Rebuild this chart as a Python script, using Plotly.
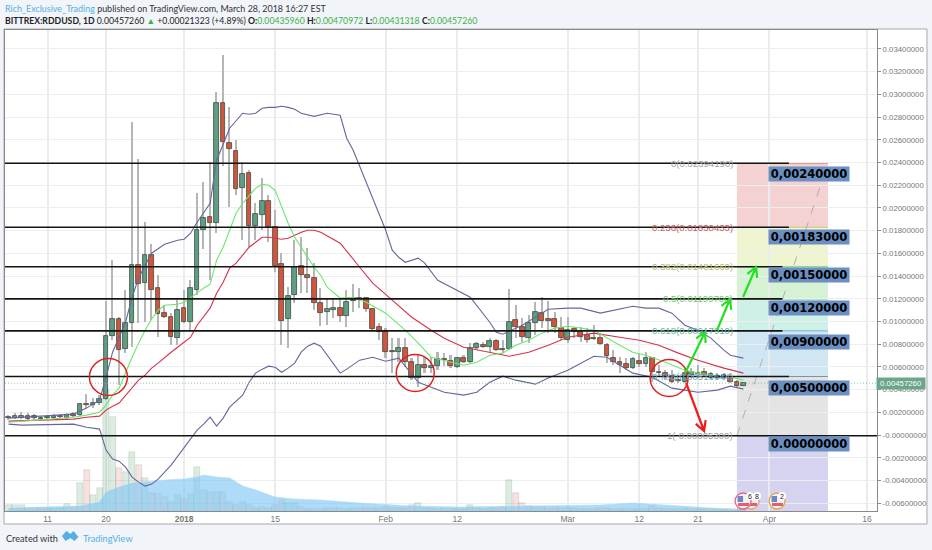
#!/usr/bin/env python3
"""
plot.py
BITTREX:RDDUSD daily chart with Bollinger bands, moving averages,
fibonacci zones and hand drawn levels.
"""

import numpy as np
import pandas as pd
import plotly.graph_objects as go

# prices are in units of 0.00001 USD
SCALE = 1e-5

DATES = pd.date_range("2017-12-05", "2018-03-28", freq="D")

OPEN = [150, 150, 150, 167, 167, 150, 150, 150, 158, 150, 185, 176, 273, 264, 282, 317, 871, 1021, 757, 986, 1496, 1338, 1584, 1294, 1074, 1038, 854,
        1118, 994, 1276, 1804, 1918, 1866, 2922, 2570, 2499, 2174, 2306, 1839, 1936, 2059, 1830, 1505, 1021, 1232, 1487, 1408, 1382, 1162, 1082, 1100, 1118, 1047, 1179, 1206, 1206, 1109, 950,
        906, 739, 730, 766, 642, 502, 616, 590, 607, 669, 651, 598, 678, 642, 766, 792, 774, 827, 757, 757, 1012, 950, 854, 986, 1074, 1021, 1021, 942,
        836, 933, 906, 880, 854, 854, 792, 678, 642, 625, 590, 651, 625, 678, 554, 546, 519, 484, 466, 528, 546, 554, 537, 519, 502, 510, 466, 436]
HIGH = [176, 194, 202, 194, 185, 167, 176, 185, 185, 194, 202, 282, 361, 326, 352, 1179, 1540, 1038, 1276, 2754, 2429, 1874, 1681, 1408, 1144, 1074, 1188,
        1276, 1364, 2130, 2226, 2402, 3018, 3344, 2886, 2596, 2402, 2332, 2042, 2262, 2112, 1980, 1602, 1302, 1716, 1742, 1646, 1514, 1294, 1206, 1206, 1206, 1276, 1329, 1294, 1214, 1118, 986,
        942, 854, 854, 854, 678, 704, 686, 686, 730, 722, 704, 686, 704, 810, 818, 818, 854, 845, 836, 1285, 1144, 1030, 1056, 1170, 1214, 1179, 1082, 1038,
        1038, 950, 950, 942, 968, 898, 810, 748, 686, 678, 686, 722, 730, 686, 616, 572, 572, 528, 590, 590, 616, 590, 554, 546, 546, 546, 484, 471]
LOW = [132, 141, 141, 123, 132, 132, 132, 141, 150, 141, 158, 167, 238, 238, 264, 310, 836, 440, 722, 774, 986, 994, 1012, 862, 1030, 792, 792,
       986, 924, 1232, 1637, 1364, 1778, 2367, 2006, 2112, 1716, 1654, 1716, 1804, 1698, 1434, 792, 766, 1162, 1250, 1250, 1100, 959, 968, 1030, 994, 950, 1082, 1118, 1082, 906, 836,
       678, 546, 642, 598, 484, 422, 546, 546, 572, 607, 590, 590, 634, 634, 748, 766, 730, 739, 722, 748, 854, 818, 810, 880, 942, 898, 898, 836,
       810, 854, 818, 810, 836, 792, 634, 616, 546, 572, 581, 598, 598, 466, 510, 484, 458, 458, 458, 502, 502, 510, 493, 484, 484, 458, 422, 431]
CLOSE = [158, 167, 167, 141, 150, 146, 158, 167, 167, 176, 167, 273, 268, 282, 317, 871, 1021, 748, 986, 1496, 1329, 1584, 1276, 1065, 1038, 862, 1100,
         994, 1294, 1804, 1910, 1866, 2922, 2578, 2517, 2165, 2297, 1839, 1945, 2059, 1830, 1487, 1003, 1223, 1478, 1408, 1382, 1162, 1074, 1109, 1118, 1047, 1170, 1206, 1197, 1109, 933, 906,
         730, 730, 766, 642, 502, 616, 590, 607, 669, 660, 607, 678, 642, 766, 801, 774, 827, 748, 748, 994, 950, 862, 986, 1082, 1003, 1003, 950, 854,
         924, 906, 862, 836, 850, 801, 695, 642, 616, 590, 669, 625, 678, 554, 546, 519, 466, 475, 546, 554, 537, 528, 502, 502, 528, 466, 431, 457]

# volume, arbitrary units
VOLUME = [6, 6, 6, 3, 3, 3, 3, 3, 3, 7, 4, 28, 41, 16, 23, 121, 94, 43, 39, 59, 46, 33, 18, 17, 14, 9, 16,
          12, 17, 44, 21, 19, 19, 19, 9, 6, 9, 6, 3, 4, 3, 6, 11, 8, 8, 4, 2, 2, 2, 3, 3, 3, 2, 3, 3, 3, 3, 3,
          4, 3, 3, 3, 6, 8, 3, 3, 2, 3, 2, 2, 2, 6, 3, 2, 3, 3, 4, 31, 18, 8, 5, 4, 4, 3, 3, 3,
          3, 3, 2, 2, 2, 3, 3, 2, 2, 2, 2, 2, 2, 5, 3, 2, 2, 2, 3, 2, 2, 2, 2, 2, 2, 2, 2, 2]

VOL_MA_DATES = ["2017-12-05", "2017-12-16", "2017-12-19", "2017-12-20", "2017-12-22", "2017-12-24", "2017-12-26", "2017-12-29",
                "2018-01-01", "2018-01-03", "2018-01-04", "2018-01-06", "2018-01-08", "2018-01-10", "2018-01-12", "2018-01-15",
                "2018-01-18", "2018-01-22", "2018-01-28", "2018-02-05", "2018-02-12", "2018-02-20", "2018-02-28", "2018-03-06",
                "2018-03-11", "2018-03-16", "2018-03-22", "2018-03-28"]
VOL_MA = [3, 5, 9, 19, 24, 28, 29, 31, 32, 34, 36, 34, 33, 25, 21, 14, 12, 11, 8, 5, 4, 5, 6, 6, 8, 6, 3, 1]

UPPER_DATES = ["2017-12-05", "2017-12-15", "2017-12-17", "2017-12-19", "2017-12-20", "2017-12-21", "2017-12-22", "2017-12-23", "2017-12-24", "2017-12-25", "2017-12-26", "2017-12-27", "2017-12-29", "2017-12-31",
               "2018-01-01", "2018-01-02", "2018-01-03", "2018-01-04", "2018-01-05", "2018-01-06", "2018-01-07", "2018-01-08", "2018-01-10", "2018-01-11", "2018-01-12", "2018-01-13", "2018-01-14", "2018-01-15", "2018-01-16", "2018-01-17", "2018-01-18", "2018-01-19", "2018-01-21", "2018-01-23", "2018-01-25", "2018-01-26", "2018-01-27",
               "2018-02-01", "2018-02-02", "2018-02-03", "2018-02-04", "2018-02-06", "2018-02-07", "2018-02-09", "2018-02-14", "2018-02-17", "2018-02-18", "2018-02-19", "2018-02-22", "2018-02-24", "2018-02-26",
               "2018-03-01", "2018-03-03", "2018-03-06", "2018-03-08", "2018-03-11", "2018-03-13", "2018-03-15", "2018-03-17", "2018-03-19", "2018-03-21", "2018-03-23", "2018-03-25", "2018-03-26", "2018-03-28"]
UPPER = [150, 185, 238, 308, 510, 730, 862, 994, 1214, 1382, 1496, 1602, 1681, 1716,
         1725, 1778, 1874, 1962, 2042, 2420, 2570, 2702, 2834, 2825, 2834, 2878, 2886, 2886, 2895, 2886, 2869, 2834, 2807, 2834, 2816, 2614, 2508,
         1804, 1628, 1566, 1522, 1558, 1514, 1364, 1214, 994, 906, 889, 968, 1038, 1109,
         1118, 1118, 1074, 1100, 1135, 1118, 1118, 1074, 968, 924, 854, 748, 704, 678]

LOWER_DATES = ["2017-12-05", "2017-12-07", "2017-12-15", "2017-12-17", "2017-12-19", "2017-12-20", "2017-12-21", "2017-12-22", "2017-12-23", "2017-12-24", "2017-12-25", "2017-12-26", "2017-12-27", "2017-12-28", "2017-12-30",
               "2018-01-01", "2018-01-03", "2018-01-04", "2018-01-05", "2018-01-06", "2018-01-07", "2018-01-08", "2018-01-10", "2018-01-11", "2018-01-12", "2018-01-13", "2018-01-14", "2018-01-15", "2018-01-16", "2018-01-17", "2018-01-18", "2018-01-19", "2018-01-20", "2018-01-21", "2018-01-22", "2018-01-25", "2018-01-26", "2018-01-28", "2018-01-30",
               "2018-02-01", "2018-02-03", "2018-02-06", "2018-02-08", "2018-02-10", "2018-02-13", "2018-02-15", "2018-02-17", "2018-02-19", "2018-02-21", "2018-02-24", "2018-02-26",
               "2018-03-01", "2018-03-05", "2018-03-07", "2018-03-09", "2018-03-11", "2018-03-14", "2018-03-17", "2018-03-19", "2018-03-21", "2018-03-24", "2018-03-26", "2018-03-28"]
LOWER = [97, 88, 97, 70, 53, -132, -211, -229, -282, -370, -414, -449, -431, -387, -264,
         -106, 44, 97, 158, 79, 150, 246, 352, 466, 546, 581, 607, 598, 554, 590, 634, 730, 783, 810, 783, 546, 581, 660, 686,
         651, 678, 466, 422, 378, 352, 378, 466, 519, 484, 449, 502,
         572, 695, 686, 616, 546, 510, 414, 396, 378, 396, 431, 405]

FAST_DATES = ["2017-12-05", "2017-12-11", "2017-12-15", "2017-12-17", "2017-12-19", "2017-12-20", "2017-12-21", "2017-12-22", "2017-12-23", "2017-12-24", "2017-12-25", "2017-12-26", "2017-12-27", "2017-12-28", "2017-12-29", "2017-12-31",
              "2018-01-01", "2018-01-02", "2018-01-03", "2018-01-04", "2018-01-05", "2018-01-06", "2018-01-07", "2018-01-08", "2018-01-09", "2018-01-10", "2018-01-11", "2018-01-12", "2018-01-13", "2018-01-14", "2018-01-15", "2018-01-16", "2018-01-17", "2018-01-18", "2018-01-19", "2018-01-20", "2018-01-21", "2018-01-22", "2018-01-23", "2018-01-25", "2018-01-27", "2018-01-29",
              "2018-02-01", "2018-02-04", "2018-02-06", "2018-02-08", "2018-02-10", "2018-02-13", "2018-02-15", "2018-02-17", "2018-02-19", "2018-02-21", "2018-02-23", "2018-02-25", "2018-02-27",
              "2018-03-01", "2018-03-03", "2018-03-05", "2018-03-09", "2018-03-11", "2018-03-13", "2018-03-16", "2018-03-19", "2018-03-21", "2018-03-24", "2018-03-26", "2018-03-28"]
FAST = [114, 141, 158, 176, 202, 264, 352, 414, 554, 686, 810, 924, 1021, 1100, 1144, 1153,
        1170, 1214, 1258, 1294, 1329, 1540, 1654, 1804, 1954, 2042, 2112, 2174, 2209, 2200, 2156, 2006, 1866, 1742, 1654, 1566, 1478, 1408, 1302, 1206, 1214, 1170,
        1074, 924, 810, 686, 660, 616, 642, 704, 722, 792, 836, 898, 942,
        959, 942, 924, 792, 730, 704, 642, 572, 546, 519, 510, 484]

SLOW_DATES = ["2017-12-05", "2017-12-11", "2017-12-15", "2017-12-17", "2017-12-19", "2017-12-20", "2017-12-21", "2017-12-22", "2017-12-23", "2017-12-24", "2017-12-25", "2017-12-26", "2017-12-27", "2017-12-28", "2017-12-29", "2017-12-30", "2017-12-31",
              "2018-01-01", "2018-01-02", "2018-01-03", "2018-01-04", "2018-01-05", "2018-01-06", "2018-01-07", "2018-01-08", "2018-01-09", "2018-01-10", "2018-01-11", "2018-01-12", "2018-01-13", "2018-01-14", "2018-01-15", "2018-01-16", "2018-01-17", "2018-01-18", "2018-01-19", "2018-01-20", "2018-01-21", "2018-01-22", "2018-01-25", "2018-01-28", "2018-01-30",
              "2018-02-02", "2018-02-05", "2018-02-08", "2018-02-10", "2018-02-13", "2018-02-17", "2018-02-20", "2018-02-23", "2018-02-26",
              "2018-03-01", "2018-03-05", "2018-03-09", "2018-03-12", "2018-03-15", "2018-03-18", "2018-03-21", "2018-03-25", "2018-03-28"]
SLOW = [123, 132, 141, 158, 167, 220, 255, 282, 352, 422, 484, 528, 590, 634, 686, 730, 774,
        818, 862, 968, 1038, 1118, 1250, 1346, 1470, 1514, 1584, 1654, 1698, 1742, 1742, 1734, 1725, 1734, 1760, 1786, 1804, 1804, 1786, 1690, 1478, 1338,
        1188, 1038, 924, 854, 774, 730, 695, 730, 792,
        862, 898, 862, 836, 792, 722, 660, 590, 546]

# fibonacci tool
FIB_LABELS = ["0(0.02394190)", "0.236(0.01830433)", "0.382(0.01481660)", "0.5(0.01199700)", "0.618(0.00917910)", "0.786(0.00516644)", "1(-0.00005300)"]
FIB_LEVELS = [0.02394, 0.0183, 0.01482, 0.012, 0.00918, 0.00516, -0.00005]
FIB_TEXT_COLORS = ["#a0a0a0", "#c45c5c", "#b9b96a", "#70c870", "#62b8a0", "#6fa5c5", "#a0a0a0"]
FIB_FILLS = ["#f5d2d2", "#eef5d0", "#d5f3d3", "#cff0e6", "#d0e6f3", "#e4e4e4", "#d6d3f1"]
FIB_LINES = ["#d08080", "#c8c878", "#70c870", "#62c8a8", "#70b0d0", "#8090a0", "#8080b0"]
FIB_START = "2018-03-27"
FIB_END = "2018-04-10"
LEVEL_ENDS = ["2018-04-04", "2018-04-04", "2018-04-03", "2018-04-03", "2018-04-03", "2018-04-04", "2018-04-17 13:00"]

BOX_LABELS = ["0,00240000", "0,00183000", "0,00150000", "0,00120000", "0,00900000", "0,00500000", "0.00000000"]

PRICE_TICKS = [0.034, 0.032, 0.03, 0.028, 0.026, 0.024, 0.022, 0.02, 0.018, 0.016, 0.014, 0.012, 0.01, 0.008, 0.006, 0.004, 0.002, 0.0, -0.002, -0.004, -0.006]
PRICE_TICK_TEXT = ["0.03400000", "0.03200000", "0.03000000", "0.02800000", "0.02600000", "0.02400000", "0.02200000", "0.02000000", "0.01800000", "0.01600000", "0.01400000", "0.01200000", "0.01000000", "0.00800000", "0.00600000", "0.00400000", "0.00200000", "-0.00000000", "-0.00200000", "-0.00400000", "-0.00600000"]
DATE_TICKS = ["2017-12-11", "2017-12-20", "2018-01-01", "2018-01-15", "2018-02-01", "2018-02-12", "2018-03-01", "2018-03-12", "2018-03-21", "2018-04-01", "2018-04-16"]
DATE_TICK_TEXT = ["11", "20", "<b>2018</b>", "15", "Feb", "12", "Mar", "12", "21", "Apr", "16"]

LAST_PRICE = 0.0045726

# plot area in page pixels
LEFT, RIGHT, TOP, BOTTOM = 4.5, 877.0, 30.0, 511.0
UP, DOWN = "#5f9e80", "#d2553c"
BAND = "#66669c"
DAY_MS = 86400000


def px(x):
    return (x - LEFT) / (RIGHT - LEFT)


def py(y):
    return (BOTTOM - y) / (BOTTOM - TOP)


def note(x, y, text, size=9, color="#444", family="Liberation Sans", anchor="left", **kw):
    return dict(x=px(x), y=py(y), xref="paper", yref="paper", text=text, showarrow=False,
                xanchor=anchor, yanchor="middle", font=dict(size=size, color=color, family=family), **kw)


def arrow_path(x0, y0, x1, y1, head=11):
    # line with an open V head, given in page pixels
    ang = np.arctan2(y1 - y0, x1 - x0)
    pts = []
    for sign in (-1, 1):
        a = ang + np.pi + sign * 0.5
        pts.append((x1 + head * np.cos(a), y1 + head * np.sin(a)))
    return (f"M{px(x0)},{py(y0)} L{px(x1)},{py(y1)} "
            f"M{px(pts[0][0])},{py(pts[0][1])} L{px(x1)},{py(y1)} L{px(pts[1][0])},{py(pts[1][1])}")


def main():
    o = np.array(OPEN) * SCALE
    h = np.array(HIGH) * SCALE
    l = np.array(LOW) * SCALE
    c = np.array(CLOSE) * SCALE
    up = c >= o

    fig = go.Figure()

    # volume sits on the hidden main axis so that it stays behind the candles
    fig.add_trace(go.Scatter(x=VOL_MA_DATES, y=VOL_MA, mode="lines", fill="tozeroy", yaxis="y",
                             line=dict(color="#a8d8f5", width=0.5), fillcolor="rgba(130,200,245,0.65)"))
    fig.add_trace(go.Bar(x=DATES, y=VOLUME, yaxis="y", width=0.92 * DAY_MS,
                         marker=dict(color=["rgba(95,170,120,0.22)" if u else "rgba(215,125,110,0.22)" for u in up],
                                     line=dict(color="rgba(70,90,80,0.25)", width=0.5))))

    # wicks then bodies, both as bars
    fig.add_trace(go.Bar(x=DATES, y=h - l, base=l, yaxis="y2", width=0.24 * DAY_MS,
                         marker=dict(color="#b6b6b6", line_width=0)))
    fig.add_trace(go.Bar(x=DATES, y=np.abs(c - o), base=np.minimum(o, c), yaxis="y2", width=0.72 * DAY_MS,
                         marker=dict(color=[UP if u else DOWN for u in up], line=dict(color="#3c4a44", width=0.8))))

    for xs, ys, color in [(UPPER_DATES, UPPER, BAND), (LOWER_DATES, LOWER, BAND),
                          (SLOW_DATES, SLOW, "#d8324a"), (FAST_DATES, FAST, "#6ee66e")]:
        fig.add_trace(go.Scatter(x=xs, y=np.array(ys) * SCALE, mode="lines", yaxis="y2",
                                 line=dict(color=color, width=1.1)))

    shapes = []
    # white panel and page furniture
    shapes.append(dict(type="rect", xref="paper", yref="paper", x0=px(3.5), x1=px(927), y0=py(524), y1=py(29),
                       fillcolor="white", line=dict(color="#a8a8a8", width=1), layer="below"))

    # fib zones
    bottoms = FIB_LEVELS[1:] + [-0.00668]
    for top, bot, fill, line in zip(FIB_LEVELS, bottoms, FIB_FILLS, FIB_LINES):
        shapes.append(dict(type="rect", xref="x", yref="y2", x0=FIB_START, x1=FIB_END, y0=bot, y1=top,
                           fillcolor=fill, line_width=0, layer="below"))
        shapes.append(dict(type="line", xref="x", yref="y2", x0=FIB_START, x1=FIB_END, y0=top, y1=top,
                           line=dict(color=line, width=1), layer="below"))
    shapes.append(dict(type="line", xref="x", yref="y2", x0=FIB_START, x1=FIB_END, y0=FIB_LEVELS[-1], y1=FIB_LEVELS[0],
                       line=dict(color="#a8a8a8", width=0.9, dash="dash")))

    # last price
    shapes.append(dict(type="line", xref="paper", yref="y2", x0=0, x1=1, y0=LAST_PRICE, y1=LAST_PRICE,
                       line=dict(color="#7fb8a0", width=0.8, dash="1px,2px")))

    # hand drawn black levels
    for level, end in zip(FIB_LEVELS, LEVEL_ENDS):
        shapes.append(dict(type="line", xref="x", yref="y2", x0="2017-12-04 11:00", x1=end, y0=level, y1=level,
                           line=dict(color="#141414", width=1.6)))

    # red circles
    for cx, cy in [(108, 377), (415, 373), (669, 378)]:
        shapes.append(dict(type="circle", xref="paper", yref="paper", x0=px(cx - 19), x1=px(cx + 19),
                           y0=py(cy + 18.5), y1=py(cy - 18.5), line=dict(color="#e0201c", width=1.5)))

    # arrows
    for x0, y0, x1, y1, color in [(685, 373, 705, 332, "#22e022"), (717, 330, 730, 299, "#22e022"),
                                  (743, 297, 756, 267, "#22e022"), (686, 383, 704, 431, "#ee1c1c")]:
        shapes.append(dict(type="path", xref="paper", yref="paper", path=arrow_path(x0, y0, x1, y1),
                           line=dict(color=color, width=2.2)))

    # earnings flags
    for cx, ring in [(751, "#e8a070"), (743, "#e86080"), (777, "#e8a040")]:
        cy = 501
        shapes.append(dict(type="circle", xref="paper", yref="paper", x0=px(cx - 8), x1=px(cx + 8),
                           y0=py(cy + 8), y1=py(cy - 8), fillcolor="#f4f0f4", line=dict(color=ring, width=1.3)))
        shapes.append(dict(type="rect", xref="paper", yref="paper", x0=px(cx - 5.5), x1=px(cx), y0=py(cy + 1), y1=py(cy - 5),
                           fillcolor="#6a88c8", line_width=0))
        shapes.append(dict(type="rect", xref="paper", yref="paper", x0=px(cx - 5), x1=px(cx + 6), y0=py(cy + 5), y1=py(cy + 2),
                           fillcolor="#e06070", line_width=0))
    for cx in (750, 757, 782):
        shapes.append(dict(type="circle", xref="paper", yref="paper", x0=px(cx - 4), x1=px(cx + 4),
                           y0=py(500), y1=py(492), fillcolor="white", line_width=0))

    # logo
    logo = [(61.5, 536), (66, 531), (70, 534), (73, 531), (78, 537), (74, 541), (70, 538), (65, 541)]
    path = "M" + " L".join(f"{px(x)},{py(y)}" for x, y in logo) + " Z"
    shapes.append(dict(type="path", xref="paper", yref="paper", fillcolor="#56aee2", line_width=0, path=path))

    annotations = []
    # header
    annotations.append(note(2, 8, '<span style="color:#56aee2">Rich_Exclusive_Trading</span> published on TradingView.com, March 28, 2018 16:27 EST',
                            size=8.95, color="#333", family="Lato"))
    g = '<span style="color:#3fae4a">{}</span>'
    annotations.append(note(2, 20.5, "<b>BITTREX:RDDUSD, 1D</b> 0.00457260 " + g.format("▲") + " +0.00021323 (+4.89%) "
                            "<b>O:</b>" + g.format("0.00435960") + " <b>H:</b>" + g.format("0.00470972") +
                            " <b>L:</b>" + g.format("0.00431318") + " <b>C:</b>" + g.format("0.00457260"),
                            size=8.7, color="#222", family="Lato"))
    annotations.append(note(3, 538, "Created with", size=9.2, color="#333", family="Lato"))
    annotations.append(note(81, 538, "TradingView", size=9.2, color="#56aee2", family="Lato"))

    # fib labels, right aligned against the zone
    for text, level, color in zip(FIB_LABELS, FIB_LEVELS, FIB_TEXT_COLORS):
        annotations.append(dict(x=px(735), y=level, xref="paper", yref="y2", text=text, showarrow=False,
                                xanchor="right", yanchor="middle",
                                font=dict(size=9.6, color=color, family="Liberation Sans")))

    # blue price boxes
    for text, cy in zip(BOX_LABELS, [174, 236.5, 275, 308, 341.5, 387.5, 444]):
        annotations.append(note(808.5, cy, f"<b>{text}</b>", size=11.5, color="#000", family="DejaVu Sans",
                                anchor="center", bgcolor="#6b8fc0", width=80, height=14, borderpad=0))

    # last price tag
    annotations.append(dict(x=px(901), y=LAST_PRICE, xref="paper", yref="y2", text="0.00457260", showarrow=False,
                            xanchor="center", yanchor="middle",
                            font=dict(size=7.8, color="white", family="Liberation Sans"),
                            bgcolor="#6aa58c", width=48, height=11, borderpad=0))

    for cx, text in [(750, "6"), (757, "8"), (782, "2")]:
        annotations.append(note(cx, 496, text, size=7, color="#222", anchor="center"))

    fig.update_layout(
        width=932, height=550,
        margin=dict(l=LEFT, r=932 - RIGHT, t=TOP, b=550 - BOTTOM),
        paper_bgcolor="#f1f5f9", plot_bgcolor="rgba(0,0,0,0)",
        showlegend=False, barmode="overlay", bargap=0,
        hovermode=False,
        shapes=shapes, annotations=annotations,
        xaxis=dict(type="date", range=["2017-12-04 11:00", "2018-04-17 13:00"], rangeslider=dict(visible=False),
                   tickvals=DATE_TICKS, ticktext=DATE_TICK_TEXT, showgrid=True, gridcolor="#e9ecef", gridwidth=1.5,
                   showline=True, linecolor="#8a8a8a", mirror=True, ticks="", zeroline=False,
                   tickfont=dict(size=8.5, color="#777", family="Liberation Sans")),
        yaxis=dict(range=[0, 481], visible=True, showticklabels=False, showgrid=False, zeroline=False,
                   showline=True, linecolor="#8a8a8a", ticks=""),
        yaxis2=dict(overlaying="y", side="right", range=[-0.00668, 0.03567], tickmode="array",
                    tickvals=PRICE_TICKS, ticktext=PRICE_TICK_TEXT, showgrid=True, gridcolor="#eceff2", gridwidth=1,
                    zeroline=False, showline=True, linecolor="#8a8a8a", ticks="outside", ticklen=3, tickcolor="#8a8a8a",
                    tickfont=dict(size=7.8, color="#777", family="Liberation Sans")),
    )

    fig.write_html("out.html", config={"displayModeBar": False}, post_script="document.body.style.margin='0';")


if __name__ == "__main__":
    main()
